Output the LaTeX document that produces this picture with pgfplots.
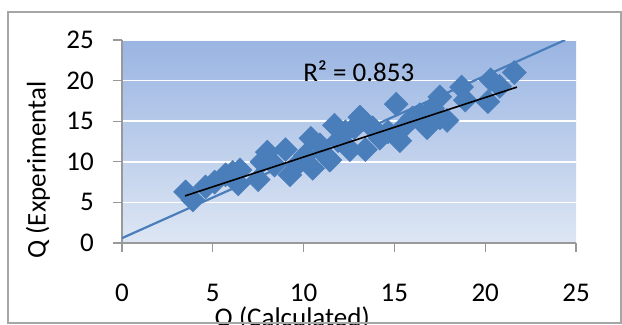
\documentclass[border=0pt]{standalone}
\usepackage{fontspec}
\setmainfont{Carlito}
\usepackage{pgfplots}
\pgfplotsset{compat=1.18}
\definecolor{mk}{HTML}{4A7EBB}
\definecolor{ln}{HTML}{4A7EBB}
\definecolor{bgtop}{HTML}{9AB5E2}
\definecolor{bgbot}{HTML}{DDE6F4}
\begin{document}
\fontsize{27bp}{32bp}\selectfont
\begin{tikzpicture}
\begin{axis}[
  scale only axis, width=454bp, height=203bp,
  xmin=0, xmax=25, ymin=0, ymax=25,
  xtick={0,5,...,25}, ytick={0,5,...,25},
  axis x line*=bottom, axis y line*=left,
  axis line style={draw=gray!80, line width=1.2bp},
  tick align=outside, major tick length=9bp,
  tick style={draw=gray!80, line width=1.2bp},
  ymajorgrids, grid style={white, line width=1.5bp},
  axis background/.style={shade, top color=bgtop, bottom color=bgbot},
  /pgf/number format/assume math mode=true,
  xticklabel style={yshift=-23bp},
  yticklabel style={xshift=-10bp},
  clip marker paths=true,
  xlabel={Q (Calculated)}, ylabel={Q (Experimental},
  every axis x label/.style={at={(axis description cs:0.375,-0.41)}, anchor=base},
  every axis y label/.style={at={(axis description cs:-0.185,0.36)}, rotate=90, anchor=center},
]
\addplot[ln, line width=2.2bp] coordinates {(0,0.6) (24.4,25)};
\addplot[only marks, mark=square*, mark size=8.5bp, mark options={fill=mk, draw=mk, rotate=45}] table {
x y
3.5 6.3
3.9 5.3
4.6 6.9
5.1 7.5
5.7 8.4
6.1 8.7
6.5 9.0
6.4 7.3
7.5 7.8
7.7 10.0
8.0 11.2
8.4 9.6
9.0 11.5
9.25 8.4
9.8 10.0
10.1 10.8
10.4 12.9
10.5 9.2
10.9 12.1
11.2 10.8
11.45 10.2
11.7 14.5
11.9 12.6
12.3 13.7
12.55 11.5
12.8 14.2
13.1 15.5
13.4 11.5
13.8 14.2
14.2 12.9
14.65 13.7
15.1 17.1
15.3 12.6
15.6 14.5
16.0 15.4
16.4 15.8
16.8 14.2
17.1 16.6
17.5 18.0
17.5 15.4
17.9 15.1
18.7 19.2
18.9 17.6
20.15 17.4
20.3 20.1
20.8 19.3
21.6 21.0
};
\addplot[black, line width=1.6bp] coordinates {(3.47,5.8) (21.75,19.2)};
\node[anchor=west, inner sep=0pt] at (axis cs:9.97,21.1) {R² = 0.853};
\path (rel axis cs:0,0) coordinate (O);
\end{axis}
\draw[gray!70, line width=1.2bp] ([shift={(-114bp,-80bp)}]O) rectangle ([shift={(499bp,231bp)}]O);
\pgfresetboundingbox
\path ([shift={(-122bp,-82bp)}]O) rectangle ([shift={(500bp,243bp)}]O);
\end{tikzpicture}
\end{document}
